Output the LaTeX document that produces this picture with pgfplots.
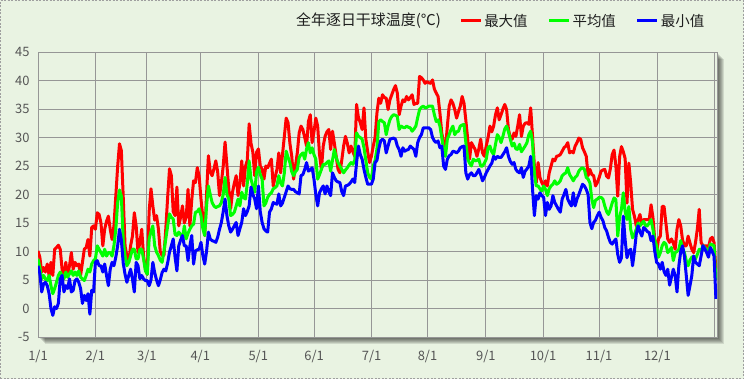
\documentclass[border=0pt]{standalone}
\usepackage{fontspec}
\setmainfont{Noto Sans CJK SC}
\usepackage{pgfplots}
\usepackage{pgfplotstable}
\pgfplotsset{compat=1.18}
\definecolor{bg}{RGB}{233,243,226}
\definecolor{gridc}{RGB}{150,150,150}
\definecolor{tickc}{RGB}{85,85,85}
\definecolor{txt}{RGB}{30,30,30}

% daily maximum dry-bulb temperature
\pgfplotstableread[row sep=\\]{v\\10.1\\9\\6.4\\7.2\\6.4\\7.8\\5.8\\8.1\\5.8\\10.4\\10.7\\11.1\\10.4\\6.9\\5.5\\8.1\\5.8\\7.5\\9.8\\6.9\\8.1\\7.5\\7.8\\5.8\\8.1\\10.4\\10.7\\12.1\\9.2\\14.2\\14.5\\13.9\\16.8\\16.5\\15\\11\\13.9\\15.3\\16.2\\13.9\\12.1\\14.5\\19.7\\24.9\\28.9\\27.7\\19.7\\11\\9.2\\8.1\\11\\12.7\\16.8\\14.5\\9.8\\11.6\\13.9\\9.2\\6.9\\6\\17\\21\\18\\15.5\\16.3\\14\\10\\9.3\\9.3\\14\\19.5\\24.5\\23.3\\17\\16.3\\21.3\\14.5\\16\\18\\15\\16\\20.9\\14.5\\19\\22.4\\22.1\\24.7\\23.2\\19.2\\16\\12.8\\20\\26.8\\24\\23.3\\24.5\\25.9\\24\\19.8\\22.1\\25\\29.2\\25.1\\21\\17.5\\20.4\\22\\23.3\\19.8\\22\\25.9\\21.5\\24.9\\26\\32.4\\29\\27.4\\23.3\\27.4\\28\\25\\24.4\\22.7\\25\\24.7\\25.5\\26.2\\21.5\\23\\24.4\\27.3\\23.8\\27\\30.2\\33.4\\32.6\\29\\26.7\\22.7\\25\\27.3\\30.8\\32\\31.4\\30\\28.5\\32.8\\34\\29.1\\31\\33.4\\32\\27\\24.4\\28.5\\30.2\\31\\31.4\\27.9\\31.1\\29\\26.7\\24.4\\23.8\\26\\28.5\\30.2\\29\\27.3\\28.5\\27.5\\26.7\\35.8\\33.5\\32.6\\31.4\\35.2\\29.7\\27.5\\25.6\\26.7\\28.5\\30\\34.3\\36.9\\36\\37.5\\37\\36.9\\34.9\\36.6\\37.5\\38.4\\39.1\\37.8\\34\\35.5\\36.6\\36.3\\37.2\\36.6\\37\\37.5\\35.8\\36\\36\\40.7\\40.5\\40.1\\39.5\\39.8\\39.6\\39.5\\40.1\\38.5\\37.8\\37.2\\34.3\\30.8\\29\\27.9\\32\\35.5\\36.6\\36\\34.9\\33.4\\34.5\\35.5\\37.2\\36\\33\\29.7\\26.2\\29.1\\28.5\\27.9\\26.7\\28\\29.7\\27.3\\26.7\\28.5\\30\\32\\31\\32\\34\\35.2\\33.1\\34\\35\\35.8\\34.9\\31.4\\30\\29.7\\30.8\\30.2\\32\\34\\30.2\\32\\32.5\\32.6\\32.3\\35.2\\30.2\\25\\22.1\\25.6\\23\\22.1\\21.5\\22.4\\21.5\\23.8\\25\\26.2\\25.9\\26.7\\26.8\\27\\27.6\\28.2\\28.5\\29.1\\27.3\\27.6\\27.3\\28.5\\29.1\\29.9\\29.7\\28.2\\27.5\\26.7\\23.3\\24.4\\23.5\\23.3\\21.5\\22.1\\23\\24.1\\24.3\\24.4\\23.2\\22.9\\24.5\\27\\27.8\\25\\19.7\\26.6\\28.4\\27.5\\26.3\\18.5\\25.5\\22\\17.4\\16.2\\14.5\\15.5\\16.5\\14.8\\15.6\\15.6\\15.6\\15.6\\18.2\\16\\12\\9.8\\12.2\\12.7\\17.9\\17.9\\15\\12.2\\11.6\\12.2\\11.5\\10.4\\13.9\\15.6\\14.5\\12\\11\\11\\12.7\\11.5\\10.4\\9.8\\11.6\\14\\17.4\\11.6\\11\\11\\11\\10.7\\12.2\\12.5\\11.6\\6.9\\}\tmax

% daily mean
\pgfplotstableread[row sep=\\]{v\\8.7\\7.2\\5.2\\5.8\\5.2\\4.9\\5.8\\4\\2.6\\3.5\\4.6\\5.8\\6.4\\5.8\\5.2\\6.4\\5.5\\6.1\\6.6\\5.8\\6.4\\5.8\\6.6\\5.5\\5.2\\4.9\\5.8\\6.9\\6.4\\7.8\\8.4\\8.7\\11\\10.4\\9.8\\9.2\\10.4\\9.2\\9.8\\9.8\\9.2\\11\\13.9\\18.5\\20.8\\19.7\\12.1\\9.2\\7.5\\8.1\\9.2\\10.4\\10.4\\8.7\\8.7\\10.4\\10.4\\8.7\\6.6\\6\\12.2\\13.5\\14.5\\11\\9.9\\9.3\\8.5\\8.1\\10\\12.2\\14.5\\16.6\\16\\15.7\\13\\12.8\\13.4\\13\\12.2\\14.5\\12.2\\13.2\\13.9\\14.5\\14.8\\16.9\\17\\17.5\\16.3\\14\\12.8\\18\\21.5\\20\\18.6\\18\\17.7\\17.9\\18\\18.6\\20\\23\\20\\19.2\\16.3\\16.5\\16.9\\18\\19.2\\18\\20.4\\19.5\\19.2\\22\\25.9\\22.7\\21.5\\20.4\\23.9\\24.8\\23.5\\22.7\\18\\18.5\\19.5\\20\\20.3\\21\\21.2\\21.5\\23.3\\22\\21.5\\23.8\\27.6\\26.5\\25.6\\24\\23.3\\24\\24.4\\26.5\\27\\27.3\\26.2\\28\\29.1\\27.3\\28.2\\27\\26.2\\22.7\\23.5\\24.4\\25.3\\25.3\\25.6\\25.9\\24.1\\26\\27.9\\26.5\\25.6\\25\\24.4\\23.8\\24.3\\24.7\\25.2\\25.6\\25.3\\26\\30.8\\30.2\\30\\29.7\\28.2\\26\\23.8\\23\\22.7\\25\\26\\28\\32.8\\33.1\\32.8\\32.6\\30.5\\32\\33.1\\33.7\\34\\33.9\\33.7\\31.4\\32\\31.8\\31.7\\32\\31.8\\31.7\\31.1\\31.5\\32\\33.5\\34.9\\35.3\\35.5\\35.2\\35.3\\35.5\\35.5\\35.5\\34\\32.8\\33.1\\32\\30\\27.9\\26.7\\29.7\\30.5\\31.4\\32\\30.5\\31\\31.1\\32\\32.2\\32.3\\29.1\\26.2\\25.5\\25\\26.2\\25.9\\26\\26.2\\25\\25\\25.5\\26.2\\28.2\\28.5\\27.5\\27\\28.8\\30.5\\30\\29.1\\30.2\\31.5\\32\\31\\29.7\\28.5\\29\\28\\27.9\\28.8\\27.5\\28\\28.5\\29.1\\30.5\\31.1\\29.1\\23.8\\21.5\\21.5\\21\\20.6\\21.5\\20.9\\19.8\\21\\21.5\\21.8\\22.4\\21.8\\22\\22.4\\23.3\\23.6\\23.8\\24.7\\23.5\\23\\22.4\\23\\23.3\\24.1\\24.5\\24.7\\24.4\\23\\22.7\\22\\19.2\\17.7\\19\\19.2\\19.5\\19.5\\19.2\\18\\17\\16.5\\17.4\\18.5\\19.4\\19.1\\12.7\\16\\17.4\\20.3\\17\\15.6\\17.9\\13.9\\12.4\\13\\13.9\\15\\14.5\\15\\15.3\\14.5\\14.5\\15\\15.6\\13.9\\12\\11\\9\\9.8\\11\\11.6\\11.3\\9.8\\10.2\\10.7\\8.4\\9.8\\10\\10.4\\11.9\\10.5\\9.8\\8.4\\7.5\\8.5\\9\\9.2\\8.7\\9.5\\10.4\\10.1\\11\\10.7\\10.4\\9.8\\11.3\\11.2\\11\\5\\}\tavg

% daily minimum
\pgfplotstableread[row sep=\\]{v\\7.5\\6.1\\2.9\\4.3\\4.6\\4\\2.6\\0\\-1.2\\0.3\\0\\0.9\\5.2\\5.8\\2.9\\4\\3.5\\5.2\\2.9\\3.2\\4.9\\5.2\\4.6\\3.5\\0.9\\2.3\\1.4\\2.6\\-1\\3.2\\2.9\\8.1\\8.4\\7.5\\7.5\\6.4\\7.8\\5.8\\4\\6.9\\8.1\\7.5\\9\\11\\13.9\\12\\8\\6\\4.6\\5.8\\6.9\\5.2\\2.9\\8.1\\7.5\\5.2\\5.8\\5.2\\4.9\\4.9\\4\\5\\8.1\\6.3\\5\\4\\5\\6.3\\6.9\\6.6\\8\\9.9\\11\\12.2\\9\\6.6\\11\\12\\12.8\\11\\11\\8.4\\11\\12.8\\7.8\\10.1\\10.3\\10.4\\11.6\\9.3\\7.8\\10\\13.4\\12.2\\11.9\\11.8\\11.6\\12.5\\13.9\\15.1\\17\\19.2\\16.3\\14.5\\13.4\\13.9\\14.5\\15.1\\12.8\\14\\15.1\\17.5\\16.3\\17\\18\\21.3\\20\\19.2\\17.5\\21.5\\17\\15.1\\14\\13.6\\13.4\\16.9\\17.5\\18.6\\18.4\\18.3\\20.1\\18\\18.5\\19.5\\20.5\\21.5\\21\\20.9\\20.9\\20.5\\20.3\\20.1\\23.3\\23.5\\24.4\\25.6\\24.1\\24.3\\24.7\\22.7\\20\\18\\20.3\\21\\21.5\\20.1\\21.5\\20.5\\19.8\\23.8\\23\\22.4\\22.2\\22.1\\20.5\\19.8\\21.5\\21.6\\21.8\\22.2\\22.7\\22.1\\25.6\\28.5\\27\\26.2\\24.4\\23\\21.8\\21.8\\21.8\\22.7\\25.6\\26\\28\\29.4\\29.7\\29.4\\27.3\\28.5\\29.7\\29.8\\29.9\\29.7\\28.5\\27.9\\26.7\\28.2\\27.6\\27.8\\27.9\\28.5\\28.2\\27.9\\26.7\\29.1\\30\\30.5\\31.7\\31.7\\31.7\\31.7\\31.4\\30\\29.4\\29.1\\29.4\\28.2\\28.5\\25\\24.4\\26.2\\26.8\\27\\27.6\\27.5\\27.3\\27.6\\28.2\\28.4\\28.5\\23.8\\22.7\\23.5\\23.8\\23.3\\23.3\\23.8\\24.4\\23.5\\22.4\\23\\23.8\\24.4\\25\\25.5\\26.7\\26.2\\26.7\\26.5\\26.5\\27\\27.5\\28.2\\26.7\\25.8\\25.3\\25.6\\24.4\\24\\23.8\\24.7\\23\\24.1\\24.5\\25\\26.7\\20.9\\16.3\\19.8\\19.2\\20.3\\19.8\\19.5\\16.3\\18.6\\17.4\\18\\19.8\\18.6\\18\\17.4\\16.9\\19.2\\20\\20.9\\19.2\\18.5\\18\\20.3\\18\\19.2\\20\\20.9\\21.8\\21.5\\20.9\\20\\15.1\\14\\15.1\\15.5\\16.3\\16.9\\16\\15.4\\14.2\\13.6\\12.5\\11.6\\11.3\\11.8\\12.2\\9.5\\8.1\\8.9\\16.2\\12\\8.9\\10.1\\10.4\\7.5\\10\\13\\14.5\\13.5\\12.7\\14.2\\13.9\\13.5\\13.3\\11.9\\12.7\\10\\8.1\\7.8\\6.9\\8.1\\6.5\\5.8\\6.9\\4.1\\5.5\\6.9\\5.8\\2.9\\7.5\\10\\11\\9.2\\5.8\\2.3\\4\\5.8\\9.2\\8.1\\7.8\\7.5\\9.2\\11\\10.5\\9.8\\9\\10.7\\10\\9.2\\1.7\\}\tmin

\begin{document}
\begin{tikzpicture}[x=1bp,y=1bp]
\fill[bg] (0,0) rectangle (744,379);
\draw[gray!75, line width=0.6bp, dash pattern=on 2bp off 1.5bp] (0.5,0.5) rectangle (743.5,378.5);
% drop shadow of the plot frame
\foreach \i in {1,...,7} {
  \fill[black, opacity=0.11] (38+\i,42-\i) rectangle (717+\i,327-\i);
}
\begin{axis}[
  at={(38bp,42bp)}, anchor=south west, scale only axis,
  width=679bp, height=285bp,
  xmin=0, xmax=366.6, ymin=-5, ymax=45,
  ytick={-5,0,5,10,15,20,25,30,35,40,45},
  xtick={0,30.9,58.8,87.6,118.9,149.1,180.1,210.3,241.8,272.7,302.9,334.4},
  xticklabels={1/1,2/1,3/1,4/1,5/1,6/1,7/1,8/1,9/1,10/1,11/1,12/1},
  extra x ticks={365}, extra x tick labels={},
  extra x tick style={grid=major, major tick length=0pt},
  grid=major,
  major grid style={draw=gridc, line width=0.9bp},
  axis line style={draw=gridc, line width=0.9bp},
  major tick length=0pt,
  ticklabel style={font=\fontsize{13}{13}\selectfont, text=tickc},
  xticklabel style={yshift=-10bp},
  yticklabel style={xshift=-5bp},
  /pgf/number format/assume math mode=true,
  axis background/.style={fill=bg},
  legend style={at={(0.6201,1.1088)}, anchor=west, draw=none, fill=none,
    legend columns=-1, font=\fontsize{14.5}{15}\selectfont, text=txt,
    inner sep=0pt,
    /tikz/every even column/.append style={column sep=18bp}},
  legend image code/.code={\draw[#1, line width=3bp, line cap=butt] (0bp,0bp) -- (20bp,0bp);},
  every axis plot/.append style={line join=round},
]
\addplot[red, line width=3bp] table[x expr=\coordindex, y=v] {\tmax};
\addplot[green, line width=3bp] table[x expr=\coordindex, y=v] {\tavg};
\addplot[blue, line width=3bp] table[x expr=\coordindex, y=v] {\tmin};
\legend{最大值,平均值,最小值}
\end{axis}
\node[anchor=west, font=\fontsize{15}{15}\selectfont, text=txt, inner sep=0pt] at (296,358) {全年逐日干球温度(℃)};
\end{tikzpicture}
\end{document}
